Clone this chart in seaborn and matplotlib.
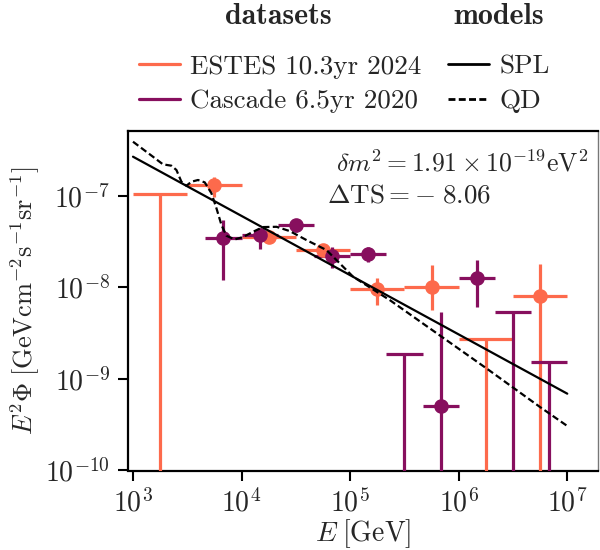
import numpy as np
import pandas as pd
import matplotlib
matplotlib.use("Agg")
import matplotlib.pyplot as plt
import seaborn as sns
from matplotlib.lines import Line2D

# ---------------- data ----------------
# ESTES 10.3yr 2024 (half-decade bins)
estes_E = 10 ** np.array([3.75, 4.25, 4.75, 5.25, 5.75, 6.75])
estes_Elo = 10 ** np.array([3.5, 4.0, 4.5, 5.0, 5.5, 6.5])
estes_Ehi = 10 ** np.array([4.0, 4.5, 5.0, 5.5, 6.0, 7.0])
estes_flux = np.array([1.31e-7, 3.56e-8, 2.55e-8, 9.7e-9, 1.01e-8, 8.07e-9])
estes_up = np.array([1.62e-7, 4.05e-8, 2.89e-8, 1.26e-8, 1.74e-8, 1.78e-8])
estes_low = np.array([9.8e-8, 3.02e-8, 2.25e-8, 6.4e-9, 5.6e-9, 1e-12])
estes_ul_E = 10 ** np.array([3.25, 6.25])
estes_ul_Elo = 10 ** np.array([3.0, 6.0])
estes_ul_Ehi = 10 ** np.array([3.5, 6.5])
estes_ul = np.array([1.05e-7, 2.72e-9])

# Cascade 6.5yr 2020 (third-decade bins)
casc_E = 10 ** np.array([3.833, 4.167, 4.5, 4.833, 5.167, 5.833, 6.167])
casc_Elo = 10 ** np.array([3.667, 4.0, 4.333, 4.667, 5.0, 5.667, 6.0])
casc_Ehi = 10 ** np.array([4.0, 4.333, 4.667, 5.0, 5.333, 6.0, 6.333])
casc_flux = np.array([3.47e-8, 3.72e-8, 4.78e-8, 2.21e-8, 2.29e-8, 5.07e-10, 1.25e-8])
casc_up = np.array([5.4e-8, 4.4e-8, 5.4e-8, 2.77e-8, 2.77e-8, 5.4e-9, 1.98e-8])
casc_low = np.array([1.2e-8, 2.6e-8, 4.05e-8, 1.61e-8, 1.9e-8, 1e-12, 6.1e-9])
casc_ul_E = 10 ** np.array([5.5, 6.5, 6.833])
casc_ul_Elo = 10 ** np.array([5.333, 6.333, 6.667])
casc_ul_Ehi = 10 ** np.array([5.667, 6.667, 7.0])
casc_ul = np.array([1.85e-9, 5.4e-9, 1.52e-9])

# models
spl_E = np.array([1e3, 1e7])
spl_flux = np.array([2.67e-7, 6.9e-10])
qd_E = 10 ** np.array([3.0, 3.184, 3.276, 3.354, 3.400, 3.446, 3.492, 3.538, 3.599,
                       3.661, 3.723, 3.769, 3.815, 3.861, 3.937, 4.014, 4.106, 4.198,
                       4.322, 4.444, 4.598, 4.782, 5.028, 5.366, 6.257, 6.748, 7.0])
qd_flux = 10 ** np.array([-6.410, -6.574, -6.657, -6.672, -6.719, -6.847, -6.891, -6.847,
                          -6.828, -6.854, -6.974, -7.138, -7.320, -7.437, -7.477, -7.451,
                          -7.393, -7.342, -7.339, -7.386, -7.484, -7.593, -7.885, -8.140,
                          -8.886, -9.306, -9.514])

c_estes = "#fd6a4c"
c_casc = "#870f5e"

# ---------------- style ----------------
sns.set_theme(style="ticks")
plt.rcParams.update({
    "font.family": "serif",
    "font.serif": ["cmr10"],
    "mathtext.fontset": "cm",
    "axes.unicode_minus": False,
    "axes.formatter.use_mathtext": True,
    "font.size": 19,
})

W, H = 600, 550
fig = plt.figure(figsize=(6, 5.5), dpi=100)
ax = fig.add_axes([128 / W, 1 - 470.5 / H, (598 - 128) / W, (470.5 - 131) / H])

models = pd.concat([
    pd.DataFrame({"E": spl_E, "flux": spl_flux, "model": "SPL"}),
    pd.DataFrame({"E": qd_E, "flux": qd_flux, "model": "QD"}),
])

ebkw = dict(fmt="o", ms=9.5, elinewidth=2.3, capsize=0, zorder=3)
ax.errorbar(estes_E, estes_flux,
            xerr=[estes_E - estes_Elo, estes_Ehi - estes_E],
            yerr=[estes_flux - estes_low, estes_up - estes_flux],
            color=c_estes, **ebkw)
ax.errorbar(estes_ul_E, estes_ul,
            xerr=[estes_ul_E - estes_ul_Elo, estes_ul_Ehi - estes_ul_E],
            yerr=[estes_ul * 0.99999999, np.zeros_like(estes_ul)],
            fmt="none", elinewidth=2.3, color=c_estes, zorder=3)
ax.errorbar(casc_E, casc_flux,
            xerr=[casc_E - casc_Elo, casc_Ehi - casc_E],
            yerr=[casc_flux - casc_low, casc_up - casc_flux],
            color=c_casc, **ebkw)
ax.errorbar(casc_ul_E, casc_ul,
            xerr=[casc_ul_E - casc_ul_Elo, casc_ul_Ehi - casc_ul_E],
            yerr=[casc_ul * 0.99999999, np.zeros_like(casc_ul)],
            fmt="none", elinewidth=2.3, color=c_casc, zorder=3)

sns.lineplot(data=models, x="E", y="flux", style="model", ax=ax, color="black",
             lw=1.6, dashes={"SPL": "", "QD": (3, 1.5)}, legend=False, zorder=4,
             sort=False, estimator=None)

ax.set_xscale("log")
ax.set_yscale("log")
ax.set_xlim(10 ** 2.954, 10 ** 7.283)
ax.set_ylim(1e-10, 10 ** -6.293)
ax.set_xticks([1e3, 1e4, 1e5, 1e6, 1e7])
ax.set_yticks([1e-10, 1e-9, 1e-8, 1e-7])
ax.minorticks_off()
ax.tick_params(axis="both", which="major", direction="out", length=7, width=1.5,
               labelsize=20, color="black", pad=6)
for s in ["left", "bottom", "top"]:
    ax.spines[s].set_linewidth(1.6)
    ax.spines[s].set_color("black")
ax.spines["right"].set_linewidth(1.0)
ax.spines["right"].set_color("#777777")

ax.set_xlabel(r"$E\;[\mathrm{GeV}]$", fontsize=20)
ax.set_ylabel(r"$E^2\Phi\;[\mathrm{GeV cm}^{-2}\mathrm{s}^{-1}\mathrm{sr}^{-1}]$",
              fontsize=19)
ax.xaxis.set_label_coords(0.5, (470.5 - 517) / 339.5)
ax.yaxis.set_label_coords((42 - 128) / 470, 0.5)

fig.text(588 / W, 1 - 163 / H, r"$\delta m^2 = 1.91\times10^{-19}\mathrm{eV}^2$",
         ha="right", va="center", fontsize=18.5)
fig.text(327 / W, 1 - 196 / H, r"$\Delta\mathrm{TS} = -\;8.06$",
         ha="left", va="center", fontsize=19.5)

# legends
h_data = [Line2D([], [], color=c_estes, lw=2.3), Line2D([], [], color=c_casc, lw=2.3)]
l_data = ["ESTES 10.3yr 2024", "Cascade 6.5yr 2020"]
h_mod = [Line2D([], [], color="black", lw=2.0),
         Line2D([], [], color="black", lw=2.0, dashes=(2.5, 1.2))]
l_mod = ["SPL", "QD"]
leg_kw = dict(loc="upper center", frameon=False, fontsize=19.5, handlelength=1.5,
              handletextpad=0.37, labelspacing=0.38, borderpad=0, borderaxespad=0)
fig.legend(h_data, l_data, bbox_to_anchor=(280 / W, 1 - 55 / H), **leg_kw)
fig.legend(h_mod, l_mod, bbox_to_anchor=(499 / W, 1 - 55 / H), **leg_kw)
fig.text(278.5 / W, 1 - 16 / H, "datasets", ha="center", va="center",
         family="cmb10", fontsize=21.5)
fig.text(498.5 / W, 1 - 16 / H, "models", ha="center", va="center",
         family="cmb10", fontsize=21.5)

fig.savefig("out.png", dpi=100)
